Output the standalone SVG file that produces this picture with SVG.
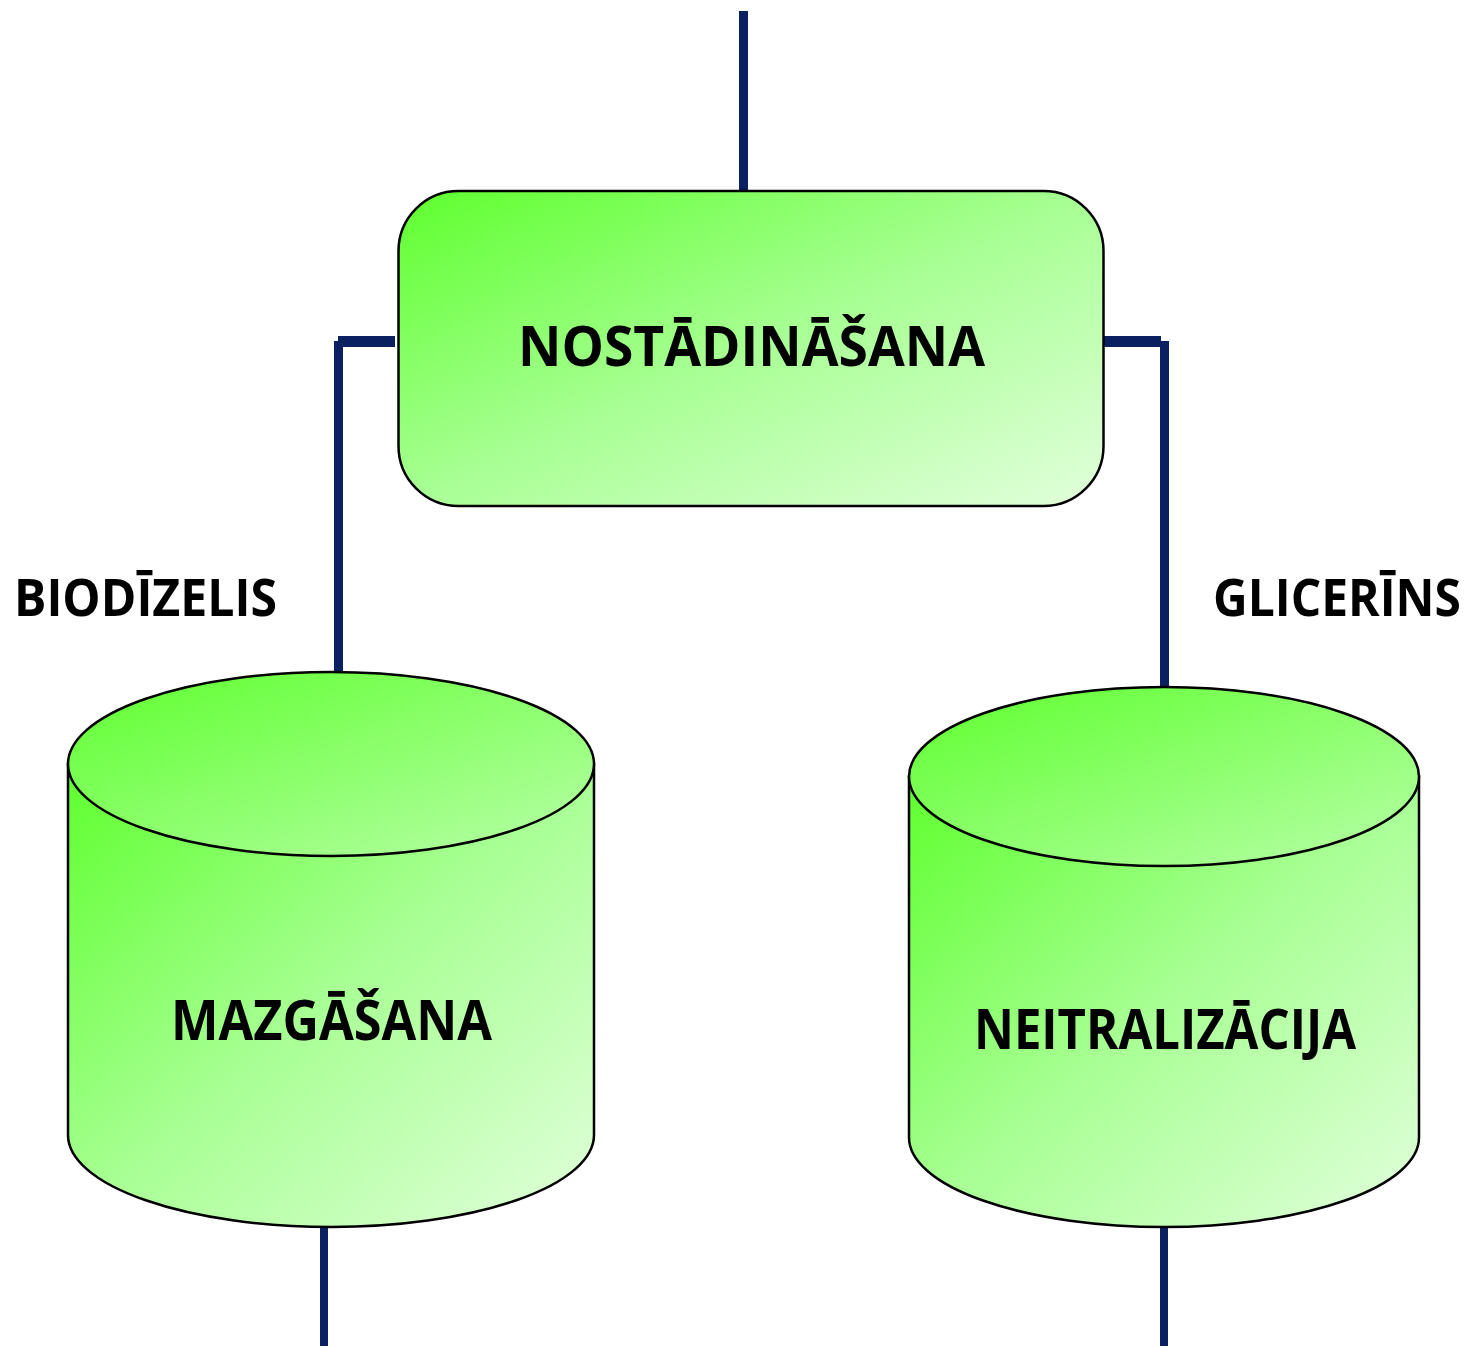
<svg xmlns="http://www.w3.org/2000/svg" width="1472" height="1346" viewBox="0 0 1472 1346">
  <defs>
    <linearGradient id="g" x1="0" y1="0" x2="1" y2="1">
      <stop offset="0" stop-color="#5eff2e"/>
      <stop offset="0.5" stop-color="#a8ff94"/>
      <stop offset="1" stop-color="#e2ffdc"/>
    </linearGradient>
    <linearGradient id="gt" x1="0" y1="0" x2="1" y2="1">
      <stop offset="0" stop-color="#5eff2e"/>
      <stop offset="1" stop-color="#b8ffa8"/>
    </linearGradient>
  </defs>
  <style>
    .shape { stroke: #000; stroke-width: 2.5; }
    .lbl { font-family: "Open Sans", "Liberation Sans", sans-serif; font-weight: bold; fill: #000; }
    .conn { stroke: #0a2060; fill: none; stroke-linecap: butt; }
  </style>

  <g id="connectors">
    <line class="conn" x1="743.5" y1="11" x2="743.5" y2="191" stroke-width="9"/>
    <line class="conn" x1="338" y1="341.5" x2="395" y2="341.5" stroke-width="11"/>
    <line class="conn" x1="338.5" y1="341" x2="338.5" y2="673" stroke-width="9"/>
    <line class="conn" x1="1103" y1="341.5" x2="1161" y2="341.5" stroke-width="11"/>
    <line class="conn" x1="1164.5" y1="341" x2="1164.5" y2="688" stroke-width="9"/>
    <line class="conn" x1="324" y1="1227" x2="324" y2="1346" stroke-width="8"/>
    <line class="conn" x1="1164" y1="1227" x2="1164" y2="1346" stroke-width="8"/>
  </g>

  <g id="nostadinasana">
    <rect class="shape" x="398.5" y="191" width="705" height="315" rx="60" ry="60" fill="url(#g)"/>
    <text class="lbl" x="518" y="366" font-size="56" textLength="467" lengthAdjust="spacingAndGlyphs">NOSTĀDINĀŠANA</text>
  </g>

  <g id="mazgasana">
    <path class="shape" fill="url(#g)" d="M68,764 L68,1135 A263,92 0 0 0 594,1135 L594,764 Z"/>
    <ellipse class="shape" cx="331" cy="764" rx="263" ry="92" fill="url(#gt)"/>
    <text class="lbl" x="171" y="1040" font-size="56" textLength="321" lengthAdjust="spacingAndGlyphs">MAZGĀŠANA</text>
  </g>

  <g id="neitralizacija">
    <path class="shape" fill="url(#g)" d="M909,776.5 L909,1137.5 A255,89.5 0 0 0 1419,1137.5 L1419,776.5 Z"/>
    <ellipse class="shape" cx="1164" cy="776.5" rx="255" ry="89.5" fill="url(#gt)"/>
    <text class="lbl" x="974" y="1049" font-size="56" textLength="382" lengthAdjust="spacingAndGlyphs">NEITRALIZĀCIJA</text>
  </g>

  <g id="biodizelis">
    <text class="lbl" x="14" y="616" font-size="52" textLength="263" lengthAdjust="spacingAndGlyphs">BIODĪZELIS</text>
  </g>

  <g id="glicerins">
    <text class="lbl" x="1461" y="616" font-size="52" text-anchor="end" textLength="248" lengthAdjust="spacingAndGlyphs">GLICERĪNS</text>
  </g>
</svg>
